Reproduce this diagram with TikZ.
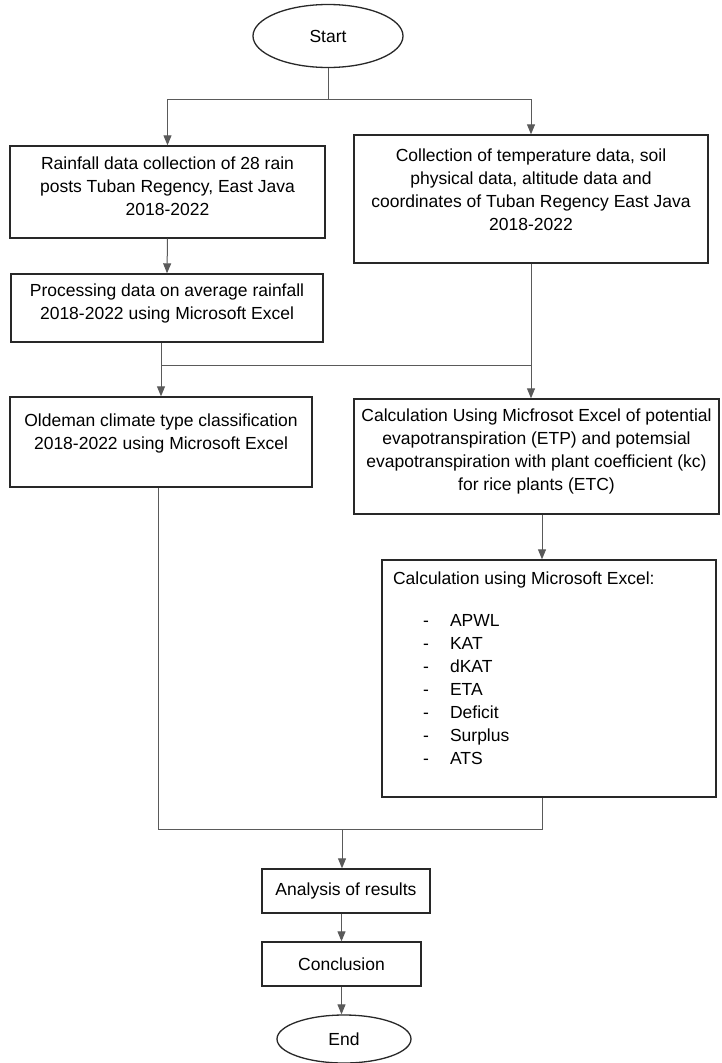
\documentclass[tikz,border=0pt]{standalone}
\usepackage{fontspec}
\setmainfont{Liberation Sans}
\usetikzlibrary{arrows.meta,shapes.geometric,calc}
\newcommand\boxtxt[4]{\begin{minipage}[c][#2][t]{#1}\vspace*{#3}\centering #4\par\end{minipage}}
\definecolor{boxline}{RGB}{40,40,40}
\definecolor{conline}{RGB}{90,90,90}
\begin{document}
\begin{tikzpicture}[x=1pt,y=-1pt,
  font=\fontsize{17.5}{23}\selectfont,
  box/.style={draw=boxline,line width=1.4pt,inner sep=0pt,fill=white},
  term/.style={draw=boxline,line width=1.3pt,ellipse,inner sep=0pt,fill=white},
  conn/.style={draw=conline,line width=1pt},
  arr/.style={conn,-{Triangle[width=8pt,length=10pt]},>={Triangle[width=8pt,length=10pt]}}]
\fill[white] (0,0) rectangle (721,1063);
\useasboundingbox (0,0) rectangle (721,1063);

\node[term,minimum width=150pt,minimum height=63pt] (start) at (328,36) {Start};

\node[box] (b1) at (167.5,192) {\boxtxt{315pt}{92pt}{10.5pt}{Rainfall data collection of 28 rain\\posts Tuban Regency, East Java\\2018-2022}};
\node[box] (b2) at (531,199) {\boxtxt{354pt}{128pt}{14pt}{Collection of temperature data, soil\\physical data, altitude data and\\coordinates of Tuban Regency East Java\\2018-2022}};
\node[box] (b3) at (167,308) {\boxtxt{312pt}{68pt}{10pt}{Processing data on average rainfall\\2018-2022 using Microsoft Excel}};
\node[box] (b4) at (161,442) {\boxtxt{302pt}{90pt}{17pt}{Oldeman climate type classification\\2018-2022 using Microsoft Excel}};
\node[box] (b5) at (536.5,456.5) {\boxtxt{365pt}{115pt}{10pt}{Calculation Using Micfrosot Excel of potential\\evapotranspiration (ETP) and potemsial\\evapotranspiration with plant coefficient (kc)\\for rice plants (ETC)}};
\node[box] (b6) at (549,678.5) {\begin{minipage}[c][237pt][t]{334pt}\vspace*{12pt}\raggedright
\hspace*{11pt}Calculation using Microsoft Excel:\\[19pt]
\hspace*{41pt}-\hspace*{21.2pt}APWL\\
\hspace*{41pt}-\hspace*{21.2pt}KAT\\
\hspace*{41pt}-\hspace*{21.2pt}dKAT\\
\hspace*{41pt}-\hspace*{21.2pt}ETA\\
\hspace*{41pt}-\hspace*{21.2pt}Deficit\\
\hspace*{41pt}-\hspace*{21.2pt}Surplus\\
\hspace*{41pt}-\hspace*{21.2pt}ATS\par\end{minipage}};
\node[box,minimum width=168pt,minimum height=44pt] (b7) at (346,891) {Analysis of results};
\node[box,minimum width=159pt,minimum height=44pt] (b8) at (341.5,964) {Conclusion};
\node[term,minimum width=134pt,minimum height=48pt] (end) at (344,1039) {End};

% junctions
\coordinate (j1) at (328,99);
\coordinate (j2l) at (161,365);
\coordinate (j2r) at (531,365);
\coordinate (j3l) at (158,829);
\coordinate (j3r) at (542,829);
\coordinate (j3m) at (342,829);

\draw[conn] (start.south) -- (j1);
\draw[arr] (j1) -| (b1.north);
\draw[arr] (j1) -| (b2.north);
\draw[arr] (b1.south) -- (b3.north);
\draw[conn] (b3.south -| j2l) -- (j2l) -- (j2r);
\draw[arr] (j2l) -- (b4.north);
\draw[arr] (b2.south) -- (b2.south |- b5.north);
\draw[arr] (b5.south -| j3r) -- (b6.north -| j3r);
\draw[conn] (b4.south -| j3l) -- (j3l) -- (j3r) -- (b6.south -| j3r);
\draw[arr] (j3m) -- (j3m |- b7.north);
\draw[arr] (b7.south -| b8.north) -- (b8.north);
\draw[arr] (b8.south) -- (b8.south |- end.north);
\end{tikzpicture}
\end{document}
